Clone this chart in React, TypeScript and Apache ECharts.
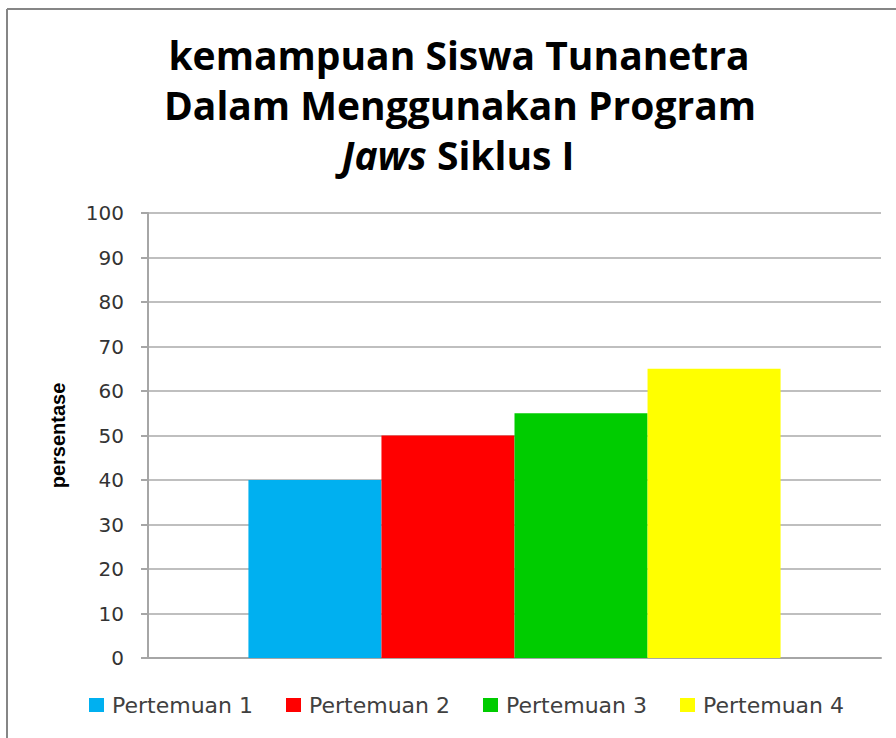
import React, { useEffect, useRef } from "react";
import * as echarts from "echarts";

const categories = ["Siklus I"];
const seriesNames = ["Pertemuan 1", "Pertemuan 2", "Pertemuan 3", "Pertemuan 4"];
const seriesValues = [40, 50, 55, 65];
const seriesColors = ["#00B0F0", "#FF0000", "#00CC00", "#FFFF00"];
const titleLines = ["kemampuan Siswa Tunanetra", "Dalam Menggunakan Program"];
const yAxisName = "persentase";

export default function App() {
  const ref = useRef<HTMLDivElement>(null);
  useEffect(() => {
    if (!ref.current) return;
    const chart = echarts.init(ref.current, null, { renderer: "svg" });
    const titleFont = "Open Sans";
    const fs = 39;
    chart.setOption({
      animation: false,
      backgroundColor: "#ffffff",
      graphic: [
        { type: "line", shape: { x1: 7, y1: 9, x2: 896, y2: 9 }, style: { stroke: "#868686", lineWidth: 2 } },
        { type: "line", shape: { x1: 7, y1: 9, x2: 7, y2: 738 }, style: { stroke: "#868686", lineWidth: 2 } },
        {
          type: "text", x: 459, y: 54,
          style: { text: titleLines[0], font: `bold ${fs}px "${titleFont}"`, fill: "#000", textAlign: "center", textVerticalAlign: "middle" },
        },
        {
          type: "text", x: 460, y: 104,
          style: { text: titleLines[1], font: `bold ${fs}px "${titleFont}"`, fill: "#000", textAlign: "center", textVerticalAlign: "middle" },
        },
        {
          type: "text", x: 458, y: 154,
          style: {
            text: "{i|Jaws} {n|Siklus I}",
            textAlign: "center", textVerticalAlign: "middle",
            rich: {
              i: { fontFamily: titleFont, fontWeight: "bold", fontStyle: "italic", fontSize: fs, fill: "#000", color: "#000" },
              n: { fontFamily: titleFont, fontWeight: "bold", fontSize: fs, fill: "#000", color: "#000" },
            },
            font: `bold ${fs}px "${titleFont}"`,
            fill: "#000",
          },
        },
      ],
      legend: seriesNames.map((name, i) => ({
        data: [name],
        left: 89 + i * 197,
        top: 694,
        icon: "rect",
        itemWidth: 15,
        itemHeight: 14,
        padding: 0,
        textStyle: { fontFamily: "DejaVu Sans", fontSize: 22, color: "#404040", padding: [0, 0, 0, 3] },
      })),
      grid: { left: 148, right: 15, top: 213, bottom: 80, containLabel: false },
      xAxis: {
        type: "category",
        data: categories,
        axisLine: { show: true, lineStyle: { color: "#A6A6A6", width: 2 } },
        axisTick: { show: false },
        axisLabel: { show: false },
      },
      yAxis: {
        type: "value",
        min: 0,
        max: 100,
        interval: 10,
        name: yAxisName,
        nameLocation: "middle",
        nameRotate: 90,
        nameGap: 80,
        nameTextStyle: { fontFamily: "Liberation Sans", fontWeight: "bold", fontSize: 20, color: "#000" },
        axisLine: { show: true, lineStyle: { color: "#A6A6A6", width: 2 } },
        axisTick: { show: true, length: 7, lineStyle: { color: "#A6A6A6", width: 2 } },
        axisLabel: { margin: 24, fontFamily: "DejaVu Sans", fontSize: 20, color: "#333" },
        splitLine: { show: true, lineStyle: { color: "#BFBFBF", width: 2 } },
      },
      series: seriesNames.map((name, i) => ({
        name,
        type: "bar",
        data: categories.map(() => seriesValues[i]),
        itemStyle: { color: seriesColors[i] },
        barGap: "0%",
        barCategoryGap: "27.4%",
      })),
    });
    return () => chart.dispose();
  }, []);
  return (
    <div
      ref={ref}
      style={{ position: "absolute", left: 0, top: 0, width: 896, height: 738 }}
    />
  );
}
